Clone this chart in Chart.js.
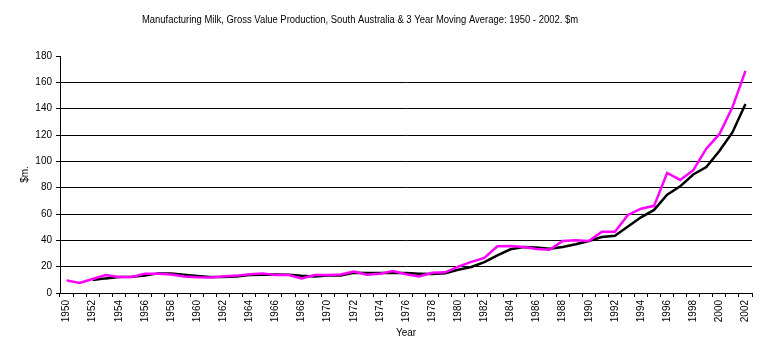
<!DOCTYPE html>
<html>
<head>
<meta charset="utf-8">
<script src="https://cdn.jsdelivr.net/npm/chart.js@4/dist/chart.umd.min.js"></script>
<style>
  html, body { margin: 0; padding: 0; background: #fff; }
  #wrap { width: 766px; height: 358px; position: relative; }
</style>
</head>
<body>
<div id="wrap"><canvas id="chart"></canvas></div>
<script>
// --- datos ---
const years = [];
for (let y = 1950; y <= 2002; y++) years.push(String(y));

const grossValue = [
  9.6, 7.6, 10.6, 13.6, 12.1, 12.1, 14.7, 14.7, 14.1, 12.6,
  11.9, 11.7, 12.6, 13.2, 14.2, 14.9, 13.6, 13.6, 11.1, 13.6,
  13.6, 14.1, 16.3, 13.9, 14.7, 16.7, 14.2, 12.6, 15.4, 15.7,
  20.0, 23.6, 26.6, 35.5, 35.7, 35.0, 33.4, 32.9, 39.5, 40.0,
  39.5, 46.5, 46.5, 59.3, 64.0, 66.2, 91.2, 85.9, 93.3, 109.6,
  120.6, 141.0, 168.7
];

const movingAvg = [
  null, null, 9.8, 11.1, 12.1, 12.4, 13.2, 14.9, 14.9, 13.9,
  12.9, 12.1, 12.1, 12.6, 13.6, 13.9, 14.1, 13.9, 13.1, 12.6,
  13.2, 13.2, 15.3, 15.2, 15.2, 15.2, 15.2, 14.7, 14.4, 15.0,
  17.7, 19.8, 23.5, 28.6, 33.2, 35.0, 34.5, 33.7, 35.0, 37.0,
  39.5, 42.5, 43.5, 50.5, 57.5, 63.1, 74.6, 81.0, 90.0, 95.6,
  107.8, 121.9, 143.6
];

const yTicks = [0, 20, 40, 60, 80, 100, 120, 140, 160, 180];
const chartTitle = 'Manufacturing Milk, Gross Value Production, South Australia & 3 Year Moving Average: 1950 - 2002. $m';

const FONT = "'Liberation Sans', Arial, sans-serif";

// titulo dibujado a mano (centrado un poco a la izquierda como en el original)
const titlePlugin = {
  id: 'manualTitle',
  afterDraw(chart) {
    const ctx = chart.ctx;
    ctx.save();
    ctx.fillStyle = '#000';
    ctx.font = '10px ' + FONT;
    ctx.textAlign = 'center';
    ctx.textBaseline = 'middle';
    ctx.fillText(chartTitle, 360, 20, 436);
    ctx.restore();
  }
};

const ctx = document.getElementById('chart');
new Chart(ctx, {
  type: 'line',
  data: {
    labels: years,
    datasets: [
      {
        label: 'Gross Value',
        data: grossValue,
        borderColor: '#ff00ff',
        borderWidth: 2.5,
        pointRadius: 0,
        tension: 0,
        fill: false
      },
      {
        label: '3 Year Moving Average',
        data: movingAvg,
        borderColor: '#000000',
        borderWidth: 2.5,
        pointRadius: 0,
        tension: 0,
        fill: false
      }
    ]
  },
  options: {
    responsive: true,
    maintainAspectRatio: false,
    animation: false,
    layout: { padding: { top: 56, right: 14, bottom: 0, left: 0 } },
    plugins: {
      legend: { display: false },
      title: { display: false },
      tooltip: { enabled: false }
    },
    scales: {
      x: {
        type: 'category',
        offset: true,
        border: { display: true, color: '#000', width: 1 },
        grid: {
          offset: true,
          drawOnChartArea: false,
          drawTicks: true,
          tickLength: 4,
          color: '#000'
        },
        ticks: {
          autoSkip: false,
          minRotation: 90,
          maxRotation: 90,
          padding: 3,
          color: '#000',
          font: { family: FONT, size: 10 },
          callback: function (value, index) {
            return index % 2 === 0 ? this.getLabelForValue(value) : '';
          }
        },
        title: {
          display: true,
          text: 'Year',
          color: '#000',
          font: { family: FONT, size: 10 },
          padding: { top: 0, bottom: 19 }
        },
        afterFit(scale) { scale.height = 65; }
      },
      y: {
        min: 0,
        max: 180,
        border: { display: true, color: '#000', width: 1 },
        grid: {
          color: (c) => (c.tick && c.tick.value === 180 ? 'rgba(0,0,0,0)' : '#000'),
          tickColor: '#000',
          tickLength: 4,
          lineWidth: 1
        },
        afterBuildTicks(scale) {
          scale.ticks = yTicks.map(v => ({ value: v }));
        },
        ticks: {
          padding: 4,
          color: '#000',
          font: { family: FONT, size: 10 }
        },
        title: {
          display: true,
          text: '$m.',
          color: '#000',
          font: { family: FONT, size: 10 },
          padding: { top: 19, bottom: 0 }
        },
        afterFit(scale) { scale.width = 60; }
      }
    }
  },
  plugins: [titlePlugin]
});
</script>
</body>
</html>
